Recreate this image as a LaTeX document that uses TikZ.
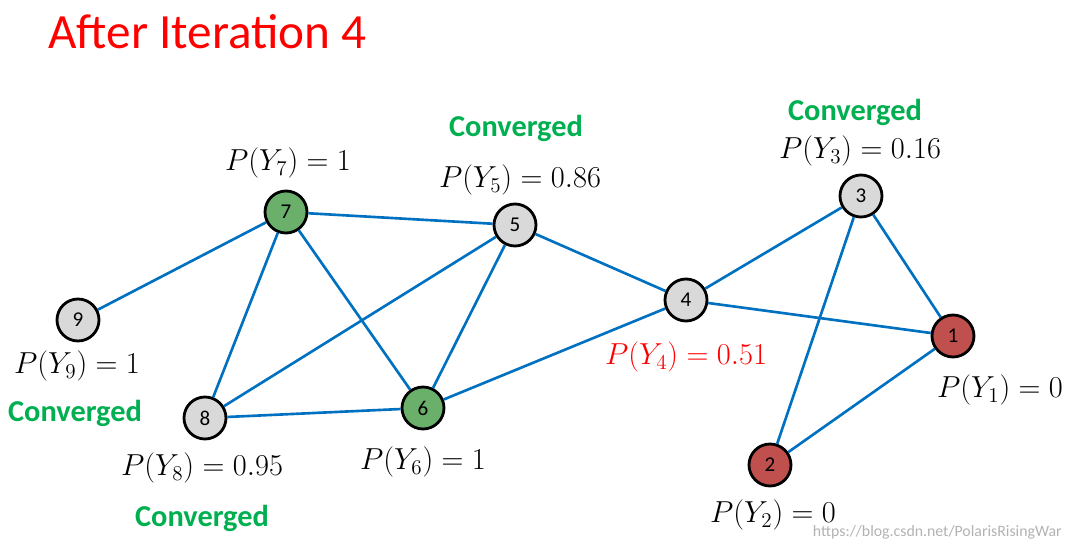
\documentclass[tikz,border=0pt]{standalone}
\usepackage{fontspec}
\setmainfont{Carlito}
\usepackage{amsmath}
\definecolor{edgeblue}{HTML}{0070C0}
\definecolor{nodegreen}{HTML}{6AAF6A}
\definecolor{nodered}{HTML}{C0504D}
\definecolor{nodegray}{HTML}{D9D9D9}
\definecolor{convgreen}{HTML}{00B050}
\newcommand{\PY}[2]{$P(Y_{#1})=#2$}
\tikzset{
  vert/.style={circle,draw=black,line width=1.6pt,minimum size=0.84cm,inner sep=0pt,font=\large},
  prob/.style={font=\LARGE},
  conv/.style={font=\LARGE\bfseries,text=convgreen},
  link/.style={draw=edgeblue,line width=1.5pt}
}
\begin{document}
\begin{tikzpicture}[x=0.02cm,y=-0.02cm]
  \useasboundingbox (0,0) rectangle (1073,547);
  \node[anchor=west,font=\fontsize{28}{32}\selectfont,text=red] (title) at (42,32) {After Iteration 4};
  \node[vert,fill=nodered]   (n1) at (953,336) {1};
  \node[vert,fill=nodered]   (n2) at (770,465) {2};
  \node[vert,fill=nodegray]  (n3) at (861,196) {3};
  \node[vert,fill=nodegray]  (n4) at (686,300) {4};
  \node[vert,fill=nodegray]  (n5) at (515,225) {5};
  \node[vert,fill=nodegreen] (n6) at (423,408) {6};
  \node[vert,fill=nodegreen] (n7) at (286,212) {7};
  \node[vert,fill=nodegray]  (n8) at (205,418) {8};
  \node[vert,fill=nodegray]  (n9) at (78,320)  {9};
  \node[prob] (p7) at (288,163) {\PY{7}{1}};
  \node[conv] (c5) at (516,128) {Converged};
  \node[prob] (p5) at (520,180) {\PY{5}{0.86}};
  \node[conv] (c3) at (855,112) {Converged};
  \node[prob] (p3) at (860,151) {\PY{3}{0.16}};
  \node[prob] (p9) at (77,366)  {\PY{9}{1}};
  \node[conv] (c9) at (75,413)  {Converged};
  \node[prob] (p8) at (202,468) {\PY{8}{0.95}};
  \node[conv] (c8) at (202,518) {Converged};
  \node[prob] (p6) at (423,462) {\PY{6}{1}};
  \node[prob,text=red] (p4) at (686,357) {\PY{4}{0.51}};
  \node[prob] (p1) at (1000,390) {\PY{1}{0}};
  \node[prob] (p2) at (773,515) {\PY{2}{0}};
  \node[anchor=east,font=\small,text=gray!60] (wm) at (1068,532) {https://blog.csdn.net/PolarisRisingWar};
  \draw[link] (n7) -- (n5);
  \draw[link] (n7) -- (n9);
  \draw[link] (n7) -- (n8);
  \draw[link] (n7) -- (n6);
  \draw[link] (n5) -- (n8);
  \draw[link] (n5) -- (n6);
  \draw[link] (n5) -- (n4);
  \draw[link] (n8) -- (n6);
  \draw[link] (n6) -- (n4);
  \draw[link] (n4) -- (n3);
  \draw[link] (n4) -- (n1);
  \draw[link] (n3) -- (n1);
  \draw[link] (n3) -- (n2);
  \draw[link] (n2) -- (n1);
\end{tikzpicture}
\end{document}
